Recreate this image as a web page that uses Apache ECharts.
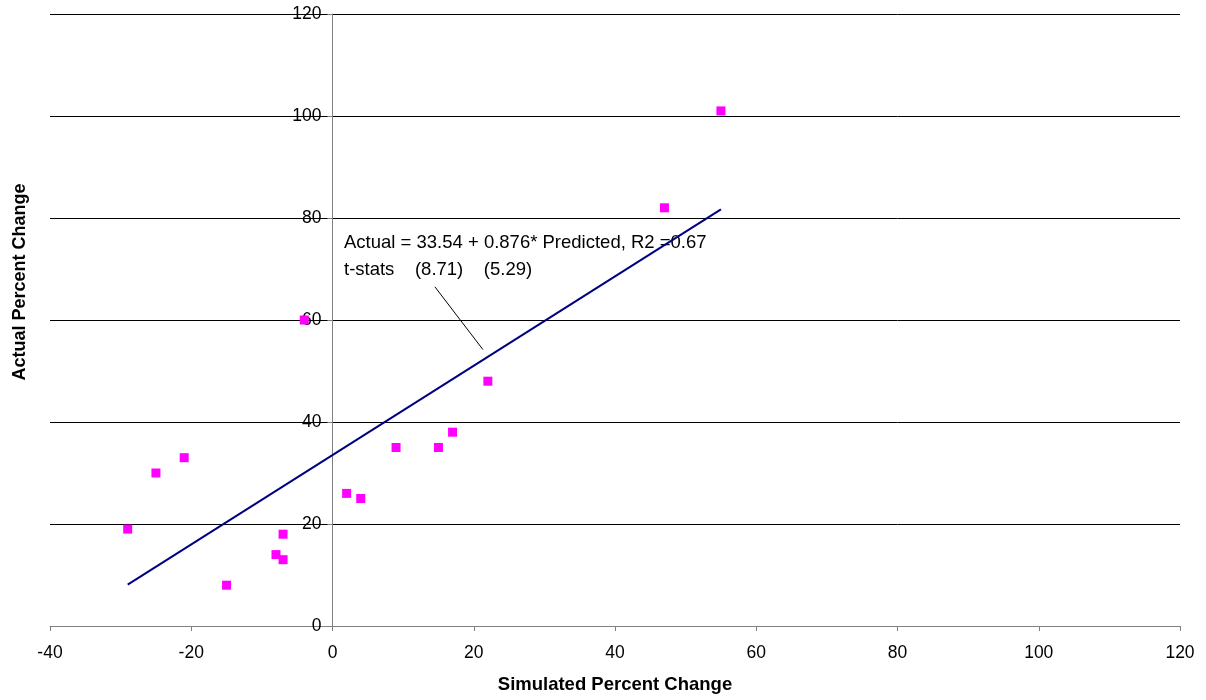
<!DOCTYPE html>
<html style="height: 100%">
<head>
  <meta charset="utf-8">
</head>
<body style="height: 100%; margin: 0; background: #fff">
  <div id="container" style="width: 1206px; height: 700px"></div>
  <script type="text/javascript" src="https://cdn.jsdelivr.net/npm/echarts@6/dist/echarts.min.js"></script>
  <script type="text/javascript">
    // simulated vs actual percent change
    var simulated = [-29, -25, -21, -15, -8, -7, -7, -4, 2, 4, 9, 15, 17, 22, 47, 55];
    var actual = [19, 30, 33, 8, 14, 18, 13, 60, 26, 25, 35, 35, 38, 48, 82, 101];
    // fitted line end points
    var fitX = [-29, 55];
    var fitY = [8.1, 81.7];
    // leader line for the equation label
    var leaderX = [14.5, 21.3];
    var leaderY = [66.5, 54.2];

    var font = 'Liberation Sans, Arial, sans-serif';

    var dom = document.getElementById('container');
    var myChart = echarts.init(dom, null, { renderer: 'canvas' });

    var option = {
      animation: false,
      backgroundColor: '#fff',
      grid: { left: 50, right: 26, top: 14, bottom: 74, containLabel: false, outerBoundsMode: 'none' },
      xAxis: {
        type: 'value',
        min: -40, max: 120, interval: 20,
        name: 'Simulated Percent Change',
        nameLocation: 'middle',
        nameGap: 49,
        nameTextStyle: { fontFamily: font, fontSize: 18.5, fontWeight: 'bold', color: '#000' },
        axisLine: { onZero: true, lineStyle: { color: '#808080', width: 1 } },
        axisTick: { show: true, length: 5, lineStyle: { color: '#808080' } },
        axisLabel: { fontFamily: font, fontSize: 17.5, color: '#000', margin: 18 },
        splitLine: { show: false }
      },
      yAxis: {
        type: 'value',
        min: 0, max: 120, interval: 20,
        // sit the axis (line, ticks, labels) on x = 0
        offset: -282.5,
        axisLine: { show: true, onZero: false, lineStyle: { color: '#808080', width: 1 } },
        axisTick: { show: true, length: 5, lineStyle: { color: '#808080' } },
        axisLabel: { fontFamily: font, fontSize: 17.5, color: '#000', margin: 11 },
        splitLine: { show: true, lineStyle: { color: '#000', width: 1 } }
      },
      series: [
        {
          type: 'scatter',
          symbol: 'rect',
          symbolSize: 9,
          itemStyle: { color: '#ff00ff', opacity: 1 },
          data: simulated.map(function (x, i) { return [x, actual[i]]; }),
          z: 3
        },
        {
          type: 'line',
          showSymbol: false,
          lineStyle: { color: '#000080', width: 2 },
          data: fitX.map(function (x, i) { return [x, fitY[i]]; }),
          markLine: {
            silent: true,
            symbol: 'none',
            label: { show: false },
            lineStyle: { color: '#000', width: 1, type: 'solid' },
            data: [[
              { coord: [leaderX[0], leaderY[0]] },
              { coord: [leaderX[1], leaderY[1]] }
            ]]
          },
          z: 2
        }
      ],
      graphic: [
        {
          type: 'text',
          left: 344, top: 233,
          style: { text: 'Actual = 33.54 + 0.876* Predicted, R2 =0.67', font: '18.5px ' + font, fill: '#000' }
        },
        {
          type: 'text',
          left: 344, top: 260,
          style: { text: 't-stats    (8.71)    (5.29)', font: '18.5px ' + font, fill: '#000' }
        },
        {
          // y axis title
          type: 'text',
          x: 20, y: 282,
          rotation: Math.PI / 2,
          style: {
            text: 'Actual Percent Change',
            font: 'bold 18px ' + font,
            fill: '#000',
            align: 'center',
            verticalAlign: 'middle'
          }
        }
      ]
    };

    myChart.setOption(option);
    window.addEventListener('resize', myChart.resize);
  </script>
</body>
</html>
